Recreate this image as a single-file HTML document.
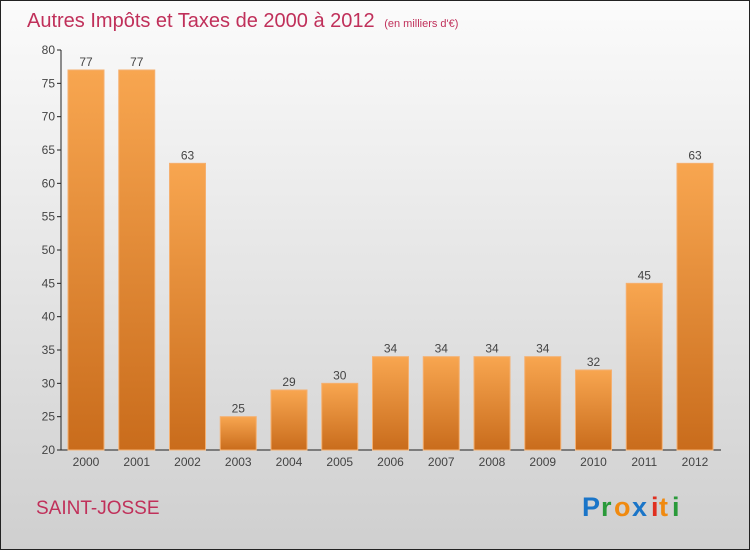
<!DOCTYPE html>
<html><head><meta charset="utf-8"><style>
body{margin:0;width:750px;height:550px;overflow:hidden}
</style></head><body>
<svg width="750" height="550" xmlns="http://www.w3.org/2000/svg" font-family="'Liberation Sans',sans-serif">
<defs>
<linearGradient id="bg" x1="0" y1="0" x2="0" y2="1"><stop offset="0" stop-color="#fbfbfb"/><stop offset="1" stop-color="#cfcfcf"/></linearGradient>
<linearGradient id="bar" x1="0" y1="0" x2="0" y2="1"><stop offset="0" stop-color="#f8a650"/><stop offset="1" stop-color="#c96c1c"/></linearGradient>
</defs>
<rect x="0.5" y="0.5" width="749" height="549" fill="url(#bg)" stroke="#222"/>
<text x="27" y="27" font-size="20" fill="#c0305a">Autres Impôts et Taxes de 2000 à 2012 <tspan font-size="11" dx="4">(en milliers d'€)</tspan></text>
<g id="yaxis"></g>
<g id="bars"></g>
<text x="36" y="514" font-size="19" fill="#c0305a">SAINT-JOSSE</text>
<g font-size="27" font-weight="bold">
<text x="582" y="516" fill="#1a75c8">P</text><text x="601" y="516" fill="#2a9a3a">r</text><text x="614" y="516" fill="#f08a10">o</text><text x="632" y="516" fill="#1a75c8">x</text><text x="651" y="516" fill="#e03020">i</text><text x="659" y="516" fill="#f08a10">t</text><text x="672" y="516" fill="#2a9a3a">i</text>
</g>
</svg>
<script>
const years=["2000","2001","2002","2003","2004","2005","2006","2007","2008","2009","2010","2011","2012"];
const values=[77,77,63,25,29,30,34,34,34,34,32,45,63];
const yTicks=[20,25,30,35,40,45,50,55,60,65,70,75,80];
const NS="http://www.w3.org/2000/svg";
const y0=450,y1=50,vmin=20,vmax=80,x0=61,x1=721;
const ys=v=>y0-(v-vmin)/(vmax-vmin)*(y0-y1);
const step=50.75;
const xc=i=>x0+25+step*i;
function mk(t,a,p,txt){const e=document.createElementNS(NS,t);for(const k in a)e.setAttribute(k,a[k]);if(txt!==undefined)e.textContent=txt;p.appendChild(e);return e;}
const ya=document.getElementById('yaxis'),bg=document.getElementById('bars');
let l=mk('line',{x1:x0,y1:y1,x2:x0,y2:y0,stroke:'#222'},ya);


l=mk('line',{x1:x0,y1:y0,x2:x1,y2:y0,stroke:'#222'},ya);


yTicks.forEach(v=>{
 const y=ys(v);
 const t=mk('line',{x1:x0-4,y1:y,x2:x0,y2:y,stroke:'#222'},ya);
 
 
 const tx=mk('text',{x:x0-6,y:y+4,'font-size':12,fill:'#444','text-anchor':'end'},ya,v);
 
 
});
const bw=36;
values.forEach((v,i)=>{
 const c=xc(i),y=ys(v);
 const r=mk('rect',{x:c-bw/2,y:y,width:bw,height:y0-y,fill:'url(#bar)',stroke:'#f5b070','stroke-width':1},bg);
 
 
 const lb=mk('text',{x:c,y:y-4,'font-size':12,fill:'#444','text-anchor':'middle'},bg,v);
 
 
 const xl=mk('text',{x:c,y:466,'font-size':12,fill:'#444','text-anchor':'middle'},bg,years[i]);
 
 
});
</script>
</body></html>
